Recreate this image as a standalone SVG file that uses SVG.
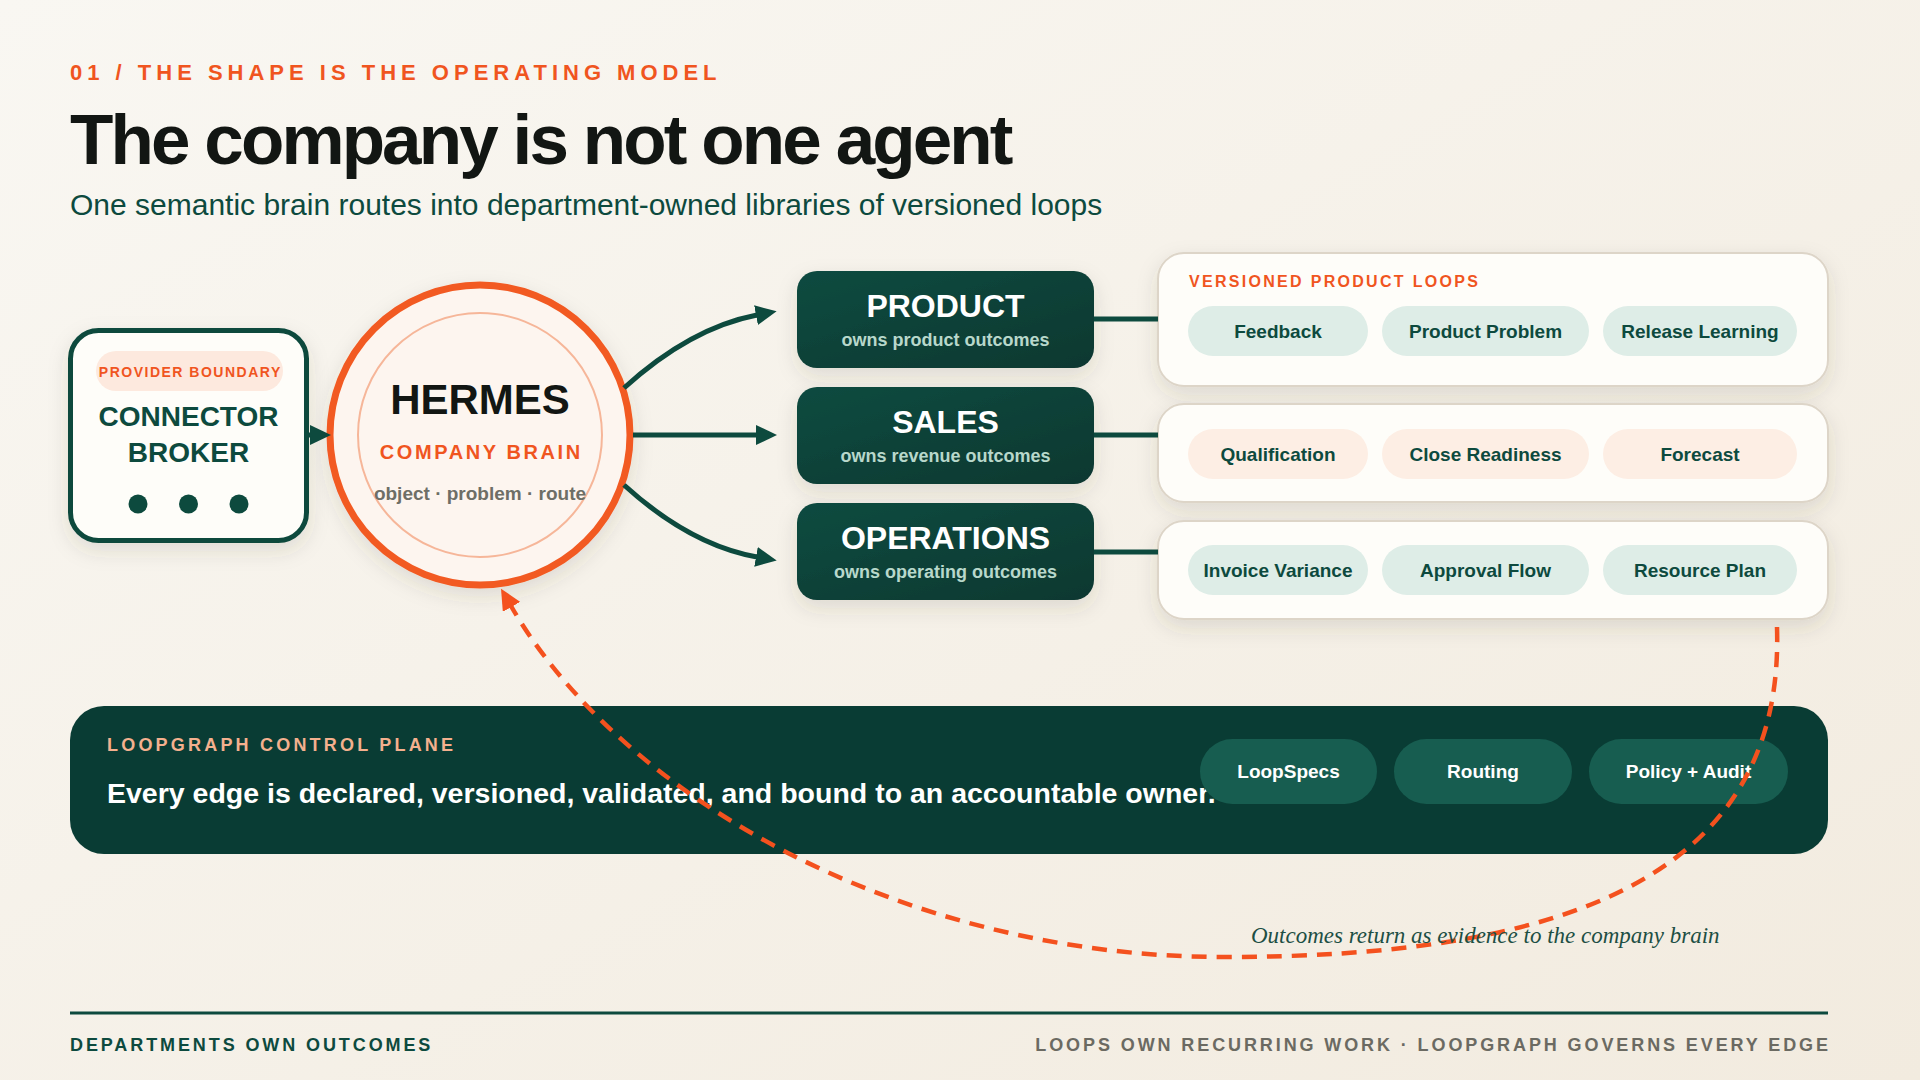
<svg xmlns="http://www.w3.org/2000/svg" width="1920" height="1080" viewBox="0 0 1920 1080">
<defs>
  <linearGradient id="bg" x1="0" y1="0" x2="1" y2="1">
    <stop offset="0" stop-color="#f9f7f2"/>
    <stop offset="1" stop-color="#f2ebdf"/>
  </linearGradient>
  <linearGradient id="dept" x1="0" y1="0" x2="1" y2="1">
    <stop offset="0" stop-color="#114b40"/>
    <stop offset="1" stop-color="#093830"/>
  </linearGradient>
  <filter id="shadow" x="-20%" y="-30%" width="140%" height="170%">
    <feDropShadow dx="0" dy="8" stdDeviation="10" flood-color="#4a3e28" flood-opacity="0.13"/>
  </filter>
  <marker id="arrowG" markerUnits="userSpaceOnUse" viewBox="0 0 22 20" markerWidth="22" markerHeight="20" refX="1" refY="10" orient="auto">
    <path d="M0,0 L21,10 L0,20 z" fill="#0d4a3e"/>
  </marker>
  <marker id="arrowO" markerUnits="userSpaceOnUse" viewBox="0 0 22 20" markerWidth="22" markerHeight="20" refX="1" refY="10" orient="auto">
    <path d="M0,0 L21,10 L0,20 z" fill="#f4511e"/>
  </marker>
</defs>
<style>
  text { font-family: "Liberation Sans", Arial, sans-serif; }
  .b { font-weight: 700; }
  .mid { text-anchor: middle; }
  .orange { fill: #f0551f; }
  .green { fill: #0d4a3e; }
  .dept-title { font-size: 32px; font-weight: 700; fill: #ffffff; text-anchor: middle; }
  .dept-sub { font-size: 18px; font-weight: 700; fill: #b8d8cb; text-anchor: middle; }
  .dept-box { fill: url(#dept); filter: url(#shadow); }
  .panel { fill: #fefdf9; stroke: #ddd5c8; stroke-width: 2; filter: url(#shadow); }
  .pill-mint { fill: #deede7; }
  .pill-peach { fill: #fdeee4; }
  .pill-text { font-size: 19px; font-weight: 700; fill: #0d4a3e; text-anchor: middle; }
  .cp-pill { fill: #175d50; }
  .cp-pill-text { font-size: 19px; font-weight: 700; fill: #ffffff; text-anchor: middle; }
  .conn { fill: none; stroke: #0d4a3e; stroke-width: 5; }
  .link { stroke: #0d4a3e; stroke-width: 5; }
</style>

<rect x="0" y="0" width="1920" height="1080" fill="url(#bg)"/>

<g id="header">
  <text x="70" y="80" class="b orange" font-size="22" letter-spacing="5">01 / THE SHAPE IS THE OPERATING MODEL</text>
  <text x="70" y="164" class="b" font-size="71" letter-spacing="-2.9" fill="#121613">The company is not one agent</text>
  <text x="70" y="215" font-size="30" class="green">One semantic brain routes into department-owned libraries of versioned loops</text>
</g>

<g id="connector-broker">
  <rect x="70.5" y="330.5" width="236" height="210" rx="28" fill="#fefdf9" stroke="#0d4a3e" stroke-width="5" filter="url(#shadow)"/>
  <rect x="96" y="351" width="187" height="40" rx="20" fill="#fde9de"/>
  <text x="190.3" y="377" class="b orange mid" font-size="14" letter-spacing="1.5">PROVIDER BOUNDARY</text>
  <text x="188.5" y="426" class="b green mid" font-size="28">CONNECTOR</text>
  <text x="188.5" y="462" class="b green mid" font-size="28">BROKER</text>
  <circle cx="138" cy="504" r="9.5" fill="#0d4a3e"/>
  <circle cx="188.5" cy="504" r="9.5" fill="#0d4a3e"/>
  <circle cx="239" cy="504" r="9.5" fill="#0d4a3e"/>
</g>

<g id="hermes">
  <circle cx="480" cy="435" r="150" fill="#fdf5ef" stroke="#f25a22" stroke-width="7" filter="url(#shadow)"/>
  <circle cx="480" cy="435" r="122" fill="none" stroke="#f6b699" stroke-width="2"/>
  <text x="480" y="414" class="b mid" font-size="42" fill="#121613">HERMES</text>
  <text x="481.3" y="459" class="b orange mid" font-size="20" letter-spacing="2.6">COMPANY BRAIN</text>
  <text x="480" y="500" class="b mid" font-size="19" fill="#6e6e66">object · problem · route</text>
</g>

<g id="dept-product">
  <rect x="797" y="271" width="297" height="97" rx="20" class="dept-box"/>
  <text x="945.5" y="317" class="dept-title">PRODUCT</text>
  <text x="945.5" y="346" class="dept-sub">owns product outcomes</text>
</g>
<g id="dept-sales">
  <rect x="797" y="387" width="297" height="97" rx="20" class="dept-box"/>
  <text x="945.5" y="433" class="dept-title">SALES</text>
  <text x="945.5" y="462" class="dept-sub">owns revenue outcomes</text>
</g>
<g id="dept-operations">
  <rect x="797" y="503" width="297" height="97" rx="20" class="dept-box"/>
  <text x="945.5" y="549" class="dept-title">OPERATIONS</text>
  <text x="945.5" y="578" class="dept-sub">owns operating outcomes</text>
</g>

<g id="loops-product">
  <rect x="1158" y="253" width="670" height="133" rx="26" class="panel"/>
  <text x="1189" y="287" class="b orange" font-size="16" letter-spacing="2.3">VERSIONED PRODUCT LOOPS</text>
  <rect x="1188" y="306" width="180" height="50" rx="25" class="pill-mint"/>
  <text x="1278" y="338" class="pill-text">Feedback</text>
  <rect x="1382" y="306" width="207" height="50" rx="25" class="pill-mint"/>
  <text x="1485.5" y="338" class="pill-text">Product Problem</text>
  <rect x="1603" y="306" width="194" height="50" rx="25" class="pill-mint"/>
  <text x="1700" y="338" class="pill-text">Release Learning</text>
</g>
<g id="loops-sales">
  <rect x="1158" y="404" width="670" height="98" rx="26" class="panel"/>
  <rect x="1188" y="429" width="180" height="50" rx="25" class="pill-peach"/>
  <text x="1278" y="461" class="pill-text">Qualification</text>
  <rect x="1382" y="429" width="207" height="50" rx="25" class="pill-peach"/>
  <text x="1485.5" y="461" class="pill-text">Close Readiness</text>
  <rect x="1603" y="429" width="194" height="50" rx="25" class="pill-peach"/>
  <text x="1700" y="461" class="pill-text">Forecast</text>
</g>
<g id="loops-operations">
  <rect x="1158" y="521" width="670" height="98" rx="26" class="panel"/>
  <rect x="1188" y="545" width="180" height="50" rx="25" class="pill-mint"/>
  <text x="1278" y="577" class="pill-text">Invoice Variance</text>
  <rect x="1382" y="545" width="207" height="50" rx="25" class="pill-mint"/>
  <text x="1485.5" y="577" class="pill-text">Approval Flow</text>
  <rect x="1603" y="545" width="194" height="50" rx="25" class="pill-mint"/>
  <text x="1700" y="577" class="pill-text">Resource Plan</text>
</g>

<g id="control-plane">
  <rect x="70" y="706" width="1758" height="148" rx="34" fill="#093c34"/>
  <text x="107" y="751" class="b" font-size="18" letter-spacing="3.2" fill="#f4b08e">LOOPGRAPH CONTROL PLANE</text>
  <text x="107" y="803" class="b" font-size="28.5" fill="#ffffff">Every edge is declared, versioned, validated, and bound to an accountable owner.</text>
  <rect x="1200" y="739" width="177" height="65" rx="32.5" class="cp-pill"/>
  <text x="1288.5" y="778" class="cp-pill-text">LoopSpecs</text>
  <rect x="1394" y="739" width="178" height="65" rx="32.5" class="cp-pill"/>
  <text x="1483" y="778" class="cp-pill-text">Routing</text>
  <rect x="1589" y="739" width="199" height="65" rx="32.5" class="cp-pill"/>
  <text x="1688.5" y="778" class="cp-pill-text">Policy + Audit</text>
</g>

<g id="connectors">
  <line x1="305" y1="435" x2="311" y2="435" class="link" marker-end="url(#arrowG)"/>
  <path d="M624,388 Q690,328 757,315" class="conn" marker-end="url(#arrowG)"/>
  <path d="M633,435 L757,435" class="conn" marker-end="url(#arrowG)"/>
  <path d="M624,485 Q690,545 757,557" class="conn" marker-end="url(#arrowG)"/>
  <line x1="1094" y1="319" x2="1158" y2="319" class="link"/>
  <line x1="1094" y1="435" x2="1158" y2="435" class="link"/>
  <line x1="1094" y1="552" x2="1158" y2="552" class="link"/>
  <path d="M1777,627 C1785,880 1560,957 1224,957 C900,957 620,795 511,606" fill="none" stroke="#f4511e" stroke-width="4.5" stroke-dasharray="15 10" marker-end="url(#arrowO)"/>
</g>

<text x="1251" y="943" font-style="italic" font-size="23" fill="#1d4f44" style="font-family:'Liberation Serif','Times New Roman',serif">Outcomes return as evidence to the company brain</text>

<g id="footer">
  <line x1="70" y1="1013" x2="1828" y2="1013" stroke="#0d4a3e" stroke-width="3"/>
  <text x="70" y="1051" class="b green" font-size="18" letter-spacing="2.9">DEPARTMENTS OWN OUTCOMES</text>
  <text x="1830.9" y="1051" class="b" font-size="18" letter-spacing="2.9" text-anchor="end" fill="#6b6a62">LOOPS OWN RECURRING WORK · LOOPGRAPH GOVERNS EVERY EDGE</text>
</g>
</svg>
